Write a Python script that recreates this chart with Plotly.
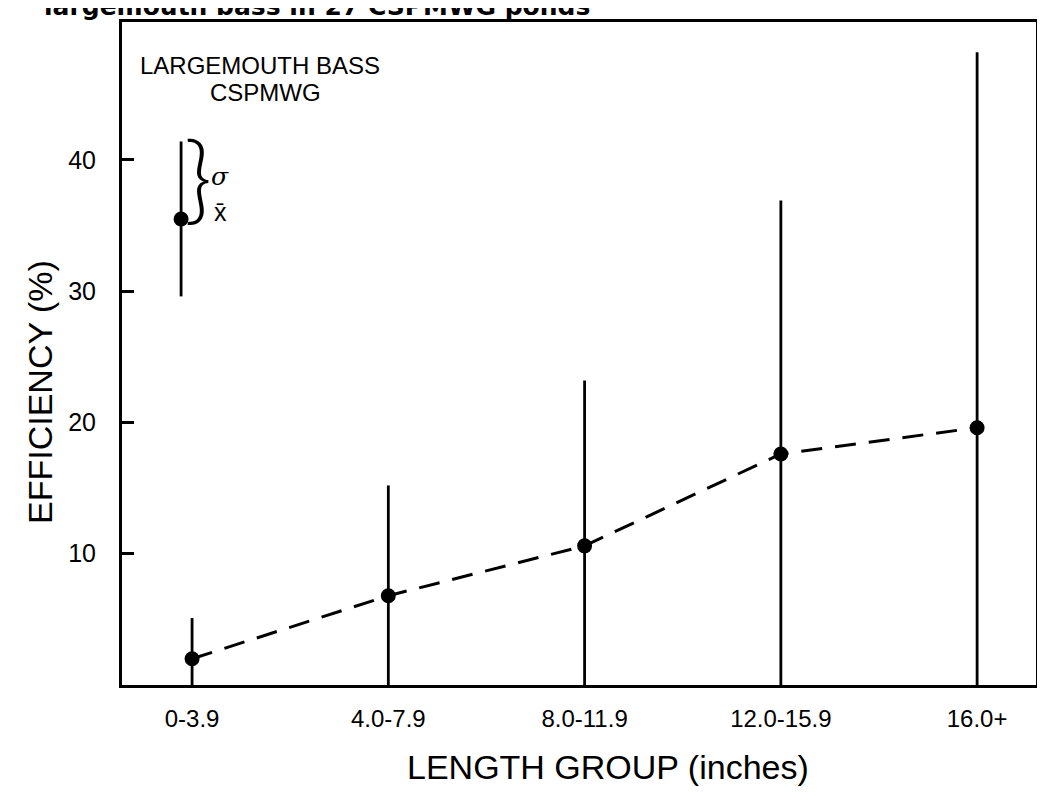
import plotly.graph_objects as go

# ---- data ----
length_groups = ["0-3.9", "4.0-7.9", "8.0-11.9", "12.0-15.9", "16.0+"]
mean_eff = [2.0, 6.8, 10.6, 17.6, 19.6]          # x-bar, efficiency (%)
sd_eff = [3.1, 8.4, 12.6, 19.3, 28.6]            # sigma
y_ticks = [10, 20, 30, 40]

# legend key (illustrative x-bar / sigma glyph)
key_x = [-0.056]
key_mean = [35.5]
key_sd = [5.9]

x_idx = list(range(len(length_groups)))
lower = [min(s, m) for s, m in zip(sd_eff, mean_eff)]   # bars stop at the x axis

FONT = "Liberation Sans, Arial, Helvetica, sans-serif"

fig = go.Figure()

# vertical sigma bars + dashed mean line
fig.add_trace(go.Scatter(
    x=x_idx, y=mean_eff,
    mode="lines+markers",
    line=dict(color="black", width=3, dash="21px,13px"),
    marker=dict(color="black", size=15),
    error_y=dict(type="data", symmetric=False, array=sd_eff, arrayminus=lower,
                 color="black", thickness=2.8, width=0),
    showlegend=False, hoverinfo="x+y",
))

# key glyph
fig.add_trace(go.Scatter(
    x=key_x, y=key_mean, mode="markers",
    marker=dict(color="black", size=15),
    error_y=dict(type="data", array=key_sd, color="black", thickness=2.8, width=0),
    showlegend=False, hoverinfo="skip",
))

annotations = [
    dict(text="LARGEMOUTH BASS", x=(260 - 122) / 914, y=(685 - 66) / 663, xref="paper", yref="paper",
         showarrow=False, font=dict(family=FONT, size=24, color="black"),
         xanchor="center", yanchor="middle"),
    dict(text="CSPMWG", x=(265 - 122) / 914, y=(685 - 93) / 663, xref="paper", yref="paper",
         showarrow=False, font=dict(family=FONT, size=24, color="black"),
         xanchor="center", yanchor="middle"),
    dict(text="}", x=key_x[0], y=38.9, xref="x", yref="y", showarrow=False,
         font=dict(family="Lato, Inter, Liberation Sans, sans-serif", size=96,
                   weight=300, color="black"),
         xanchor="center", yanchor="middle", xshift=17),
    dict(text="<i>σ</i>", x=key_x[0], y=38.7, xref="x", yref="y", showarrow=False,
         font=dict(family="DejaVu Serif, serif", size=25, color="black"),
         xanchor="center", yanchor="middle", xshift=39),
    dict(text="x̄", x=key_x[0], y=36.0, xref="x", yref="y", showarrow=False,
         font=dict(family=FONT, size=25, color="black"),
         xanchor="center", yanchor="middle", xshift=39),
    dict(text="<b>largemouth bass in 27 CSPMWG ponds</b>", x=(42 - 122) / 914, y=0.998,
         xref="paper", yref="paper", showarrow=False,
         font=dict(family="DejaVu Sans, sans-serif", size=25, color="black"),
         xanchor="left", yanchor="bottom"),
    dict(text="LENGTH GROUP (inches)", x=(608 - 122) / 914, y=(685 - 767) / 663,
         xref="paper", yref="paper",
         showarrow=False, font=dict(family=FONT, size=34, color="black"),
         xanchor="center", yanchor="middle"),
    dict(text="EFFICIENCY (%)", x=(40 - 122) / 914, y=(685 - 392) / 663,
         xref="paper", yref="paper",
         showarrow=False, textangle=-90, font=dict(family=FONT, size=34, color="black"),
         xanchor="center", yanchor="middle"),
]

# note: the page body has an 8px default margin, so margins are reduced by 8px
fig.update_layout(
    width=1045, height=796,
    margin=dict(l=114, r=17, t=14, b=119),
    paper_bgcolor="white", plot_bgcolor="white",
    annotations=annotations,
    xaxis=dict(
        range=[-0.357, 4.30], tickmode="array", tickvals=x_idx, ticktext=length_groups,
        showgrid=False, zeroline=False, showline=True, mirror=True,
        linecolor="black", linewidth=3, ticks="", ticklabelstandoff=10,
        tickfont=dict(family=FONT, size=24, color="black"),
    ),
    yaxis=dict(
        range=[0, 50.5], tickmode="array", tickvals=y_ticks,
        showgrid=False, zeroline=False, showline=True, mirror=True,
        linecolor="black", linewidth=3, ticks="inside", ticklen=12, tickwidth=3,
        tickcolor="black", ticklabelstandoff=18,
        tickfont=dict(family=FONT, size=25, color="black"),
    ),
)

fig.write_html("out.html")
